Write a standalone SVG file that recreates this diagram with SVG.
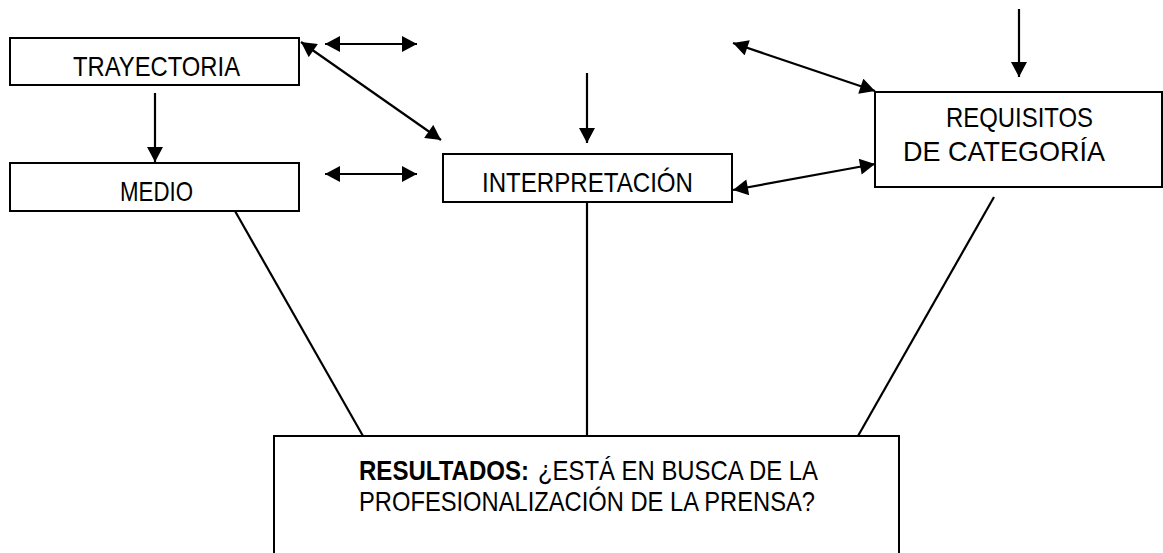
<svg xmlns="http://www.w3.org/2000/svg" width="1163" height="553" viewBox="0 0 1163 553">
<style>
.box{fill:#fff;stroke:#000;stroke-width:2}
.t{font-family:"Liberation Sans",Arial,sans-serif;font-size:28px;fill:#000}
.b{font-weight:bold}
.c{stroke:#000;stroke-width:2.2;fill:none}
</style>
<defs>
<marker id="ah" markerUnits="userSpaceOnUse" markerWidth="16" markerHeight="16" viewBox="0 0 15 16" refX="15" refY="8" orient="auto-start-reverse">
<path d="M0,0 L15,8 L0,16 z" fill="#000"/>
</marker>
</defs>
<rect width="1163" height="553" fill="#fff"/>
<g id="connectors">
<line class="c" x1="155" y1="93" x2="155" y2="162" marker-end="url(#ah)"/>
<line class="c" x1="325" y1="44" x2="417" y2="44" marker-start="url(#ah)" marker-end="url(#ah)"/>
<line class="c" x1="325" y1="174" x2="417" y2="174" marker-start="url(#ah)" marker-end="url(#ah)"/>
<line class="c" x1="301" y1="42" x2="441" y2="140" marker-start="url(#ah)" marker-end="url(#ah)"/>
<line class="c" x1="587" y1="73" x2="587" y2="143" marker-end="url(#ah)"/>
<line class="c" x1="733" y1="43" x2="875" y2="91" marker-start="url(#ah)" marker-end="url(#ah)"/>
<line class="c" x1="733" y1="190" x2="875" y2="164" marker-start="url(#ah)" marker-end="url(#ah)"/>
<line class="c" x1="1019" y1="9" x2="1019" y2="77" marker-end="url(#ah)"/>
<line class="c" x1="235" y1="211" x2="363" y2="436"/>
<line class="c" x1="587" y1="202" x2="587" y2="436"/>
<line class="c" x1="994" y1="197" x2="858" y2="436"/>
</g>
<g id="trayectoria">
<rect class="box" x="10" y="38" width="289" height="47"/>
<text class="t" x="73" y="76" textLength="167" lengthAdjust="spacingAndGlyphs">TRAYECTORIA</text>
</g>
<g id="medio">
<rect class="box" x="10" y="163" width="289" height="48"/>
<text class="t" x="120" y="201" textLength="73" lengthAdjust="spacingAndGlyphs">MEDIO</text>
</g>
<g id="interpretacion">
<rect class="box" x="443" y="154" width="289" height="48"/>
<text class="t" x="482" y="192" textLength="211" lengthAdjust="spacingAndGlyphs">INTERPRETACIÓN</text>
</g>
<g id="requisitos">
<rect class="box" x="875" y="92" width="287" height="95"/>
<text class="t" x="946" y="127" textLength="147" lengthAdjust="spacingAndGlyphs">REQUISITOS</text>
<text class="t" x="903" y="161" textLength="202" lengthAdjust="spacingAndGlyphs">DE CATEGORÍA</text>
</g>
<g id="resultados">
<rect class="box" x="274" y="436" width="625" height="130"/>
<text class="t b" x="359" y="480" textLength="170" lengthAdjust="spacingAndGlyphs">RESULTADOS:</text>
<text class="t" x="538" y="480" textLength="280" lengthAdjust="spacingAndGlyphs">¿ESTÁ EN BUSCA DE LA</text>
<text class="t" x="359" y="511" textLength="456" lengthAdjust="spacingAndGlyphs">PROFESIONALIZACIÓN DE LA PRENSA?</text>
</g>
</svg>
